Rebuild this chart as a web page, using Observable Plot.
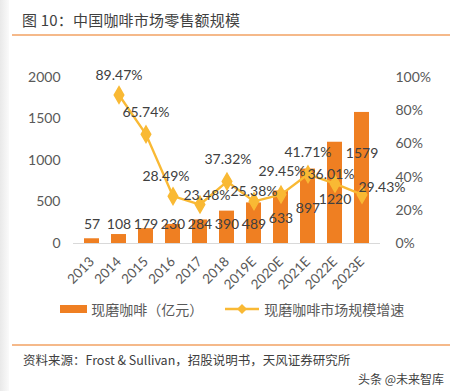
<!DOCTYPE html>
<html>
<head>
<meta charset="utf-8">
<script src="https://cdn.jsdelivr.net/npm/d3@7"></script>
<script src="https://cdn.jsdelivr.net/npm/@observablehq/plot@0.6"></script>
<style>
  html, body { margin: 0; padding: 0; background: #fff; }
  body { width: 456px; height: 391px; position: relative; overflow: hidden;
         font-family: "Noto Sans CJK SC", "Noto Sans", sans-serif; color: #595959; }
  .shade { position: absolute; left: 0; top: 0; width: 9px; height: 391px;
           background: linear-gradient(to right, #e9e9e9, #fafafa); }
  .title { position: absolute; left: 22px; top: 9px; font-size: 15px; color: #3f3f3f; letter-spacing: 0.2px; }
  .hline { position: absolute; left: 12px; width: 438px; height: 2px; background: #f5b98a; }
  .legend { position: absolute; top: 299px; left: 60px; font-size: 14px; color: #595959; display: flex; align-items: center; }
  .legend span { display: inline-flex; align-items: center; }
  .foot { position: absolute; left: 23px; top: 350px; font-size: 12.5px; color: #404040; }
  .mark { position: absolute; right: 12px; top: 370px; font-size: 12px; color: #404040; }
  #chart { position: absolute; left: 0; top: 40px; }
</style>
</head>
<body>
<div class="shade"></div>
<div class="title">图 10：中国咖啡市场零售额规模</div>
<div class="hline" style="top:34px"></div>
<div id="chart"></div>
<div class="legend" id="legend"></div>
<div class="hline" style="top:344px"></div>
<div class="foot">资料来源：Frost &amp; Sullivan，招股说明书，天风证券研究所</div>
<div class="mark">头条 @未来智库</div>
<script>
// ---- data ----
const years = ["2013","2014","2015","2016","2017","2018","2019E","2020E","2021E","2022E","2023E"];
const sales = [57,108,179,230,284,390,489,633,897,1220,1579];           // 亿元
const growth = [null,89.47,65.74,28.49,23.48,37.32,25.38,29.45,41.71,36.01,29.43]; // %
const leftTicks = [0,500,1000,1500,2000];
const rightTicks = [0,20,40,60,80,100];
const seriesNames = ["现磨咖啡（亿元）", "现磨咖啡市场规模增速"];

// ---- styling / layout ----
const barColor = "#ef7f22";
const lineColor = "#f9b934";
const pctScale = 20; // 100% maps to 2000 on the shared y scale
const barLabelDy = [-14,-10,-4,0,5,13,22,28,39,57,41];
const lineLabelDx = [0,0,0,-7,7,1,0,1,0,-4,20];
const lineLabelDy = [0,-19,-22,-20,-9,-22,-10,-23,-22,-9,-7];

const rows = years.map((y,i)=>({year:y, sales:sales[i], growth:growth[i], i}));
const gRows = rows.filter(d=>d.growth!=null);

const marks = [
  Plot.ruleY([0], {stroke:"#d9d9d9"}),
  Plot.barY(rows, {x:"year", y:"sales", fill:barColor}),
  Plot.line(gRows, {x:"year", y:d=>d.growth*pctScale, stroke:lineColor, strokeWidth:2.4}),
  Plot.dot(gRows, {x:"year", y:d=>d.growth*pctScale, symbol:"diamond", r:5, fill:lineColor, stroke:lineColor}),
  Plot.axisY({ticks:leftTicks, tickFormat:d=>String(d), tickSize:0, tickPadding:13, label:null, fontSize:14}),
  Plot.axisY({anchor:"right", ticks:rightTicks.map(v=>v*pctScale), tickFormat:d=>(d/pctScale)+"%", tickSize:0, tickPadding:15, label:null, fontSize:14}),
  Plot.axisX({tickRotate:-45, tickSize:0, tickPadding:16, label:null, fontSize:13.5})
];
rows.forEach((d,i)=>{
  marks.push(Plot.text([d], {x:"year", y:"sales", text:d=>String(d.sales), dy:barLabelDy[i], fill:"#404040", fontSize:14}));
});
gRows.forEach(d=>{
  marks.push(Plot.text([d], {x:"year", y:v=>v.growth*pctScale, text:v=>v.growth.toFixed(2)+"%", dx:lineLabelDx[d.i], dy:lineLabelDy[d.i], fill:"#404040", fontSize:14}));
});

const chart = Plot.plot({
  width:456, height:260,
  marginTop:37, marginBottom:57, marginLeft:73, marginRight:76,
  style:{fontFamily:"Lato, 'Noto Sans', sans-serif", color:"#595959", background:"transparent"},
  x:{type:"band", domain:years, paddingInner:0.43, paddingOuter:0.2},
  y:{domain:[0,2000]},
  marks
});
document.getElementById("chart").appendChild(chart);

// legend
const lg = document.getElementById("legend");
lg.innerHTML =
  `<span><svg width="28" height="10"><rect x="0" y="1" width="27" height="8" fill="${barColor}"/></svg>&nbsp;${seriesNames[0]}</span>` +
  `<span style="margin-left:22px"><svg width="36" height="12"><line x1="0" y1="6" x2="34" y2="6" stroke="${lineColor}" stroke-width="2.5"/><path d="M17 1 L22 6 L17 11 L12 6 Z" fill="${lineColor}"/></svg>&nbsp;${seriesNames[1]}</span>`;
</script>
</body>
</html>
